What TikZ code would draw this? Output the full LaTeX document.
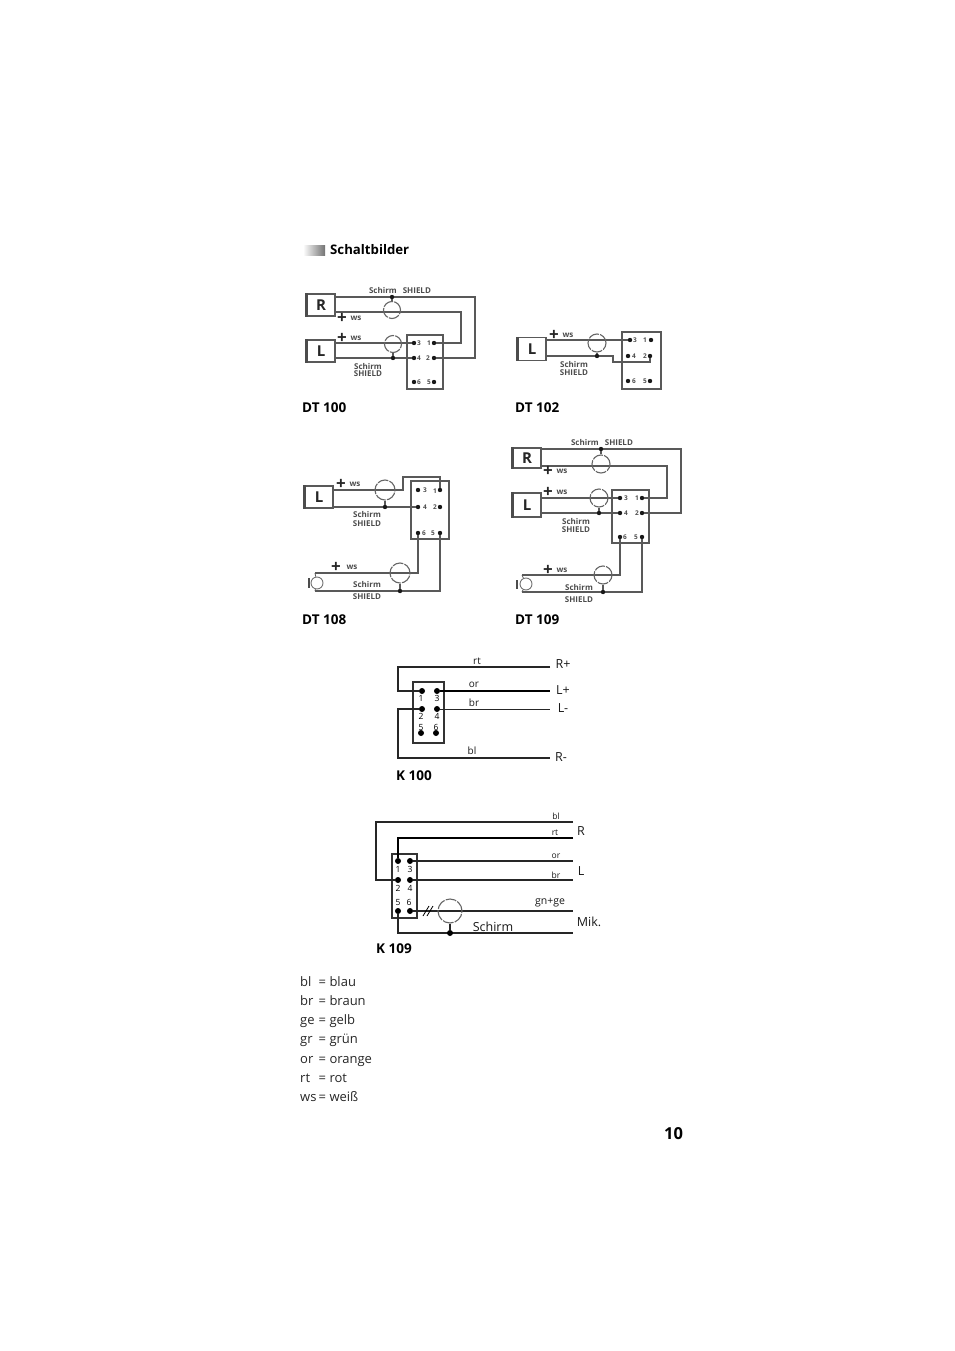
\documentclass[tikz,border=0pt]{standalone}
\usepackage{fontspec}
\setmainfont{Open Sans}
\usetikzlibrary{positioning,shapes}

\begin{document}
\begin{tikzpicture}[inner sep=0pt,x=1pt,y=-1pt]
  \useasboundingbox(0,0)rectangle(954,1351);
  \tikzstyle{w}=[draw=black!65,line width=1.25pt]
  \tikzstyle{k}=[draw=black!85,line width=1.3pt]
  \tikzstyle{kt}=[draw=black,line width=1.9pt]
  \tikzstyle{plug}=[draw=black!65,line width=1.25pt,minimum width=28pt,minimum height=22pt,font=\fontsize{15}{15}\bfseries\selectfont,text=black!85]
  \tikzstyle{bar}=[line width=2.4pt,draw=black!70]
  \tikzstyle{conn}=[draw=black!65,line width=1.25pt]
  \tikzstyle{pin}=[circle,fill=black!90,minimum size=4.4pt]
  \tikzstyle{kpin}=[circle,fill=black,minimum size=6pt]
  \tikzstyle{sh}=[circle,draw=black!60,line width=1.1pt,dash pattern=on 11pt off 1.2pt,minimum size=17pt]
  \tikzstyle{mic}=[circle,draw=black!55,line width=0.9pt,minimum size=12pt]
  \tikzstyle{lb}=[font=\fontsize{8}{8}\bfseries\selectfont,text=black!70]
  \tikzstyle{plus}=[font=\fontsize{17}{17}\bfseries\selectfont,text=black!85]
  \tikzstyle{num}=[font=\fontsize{6.5}{6.5}\bfseries\selectfont,text=black!70]
  \tikzstyle{knum}=[font=\fontsize{8.5}{8.5}\selectfont]
  \tikzstyle{kl}=[font=\fontsize{10}{10}\selectfont,text=black!90]
  \tikzstyle{ks}=[font=\fontsize{8.5}{8.5}\selectfont,text=black!90]
  \tikzstyle{kb}=[font=\fontsize{12.5}{12.5}\selectfont,text=black!90]
  \tikzstyle{tag}=[anchor=base west,font=\fontsize{13.5}{13.5}\bfseries\selectfont]
  \tikzstyle{leg}=[anchor=base west,font=\fontsize{13}{13}\selectfont,text=black!85]
  % head
  \node[left color=white,right color=black!55,minimum width=22pt,minimum height=10pt](hbar)at(314,250){};
  \node[tag,font=\fontsize{13.2}{13.2}\bfseries\selectfont](head)at(330,254){Schaltbilder};
  \node[tag,font=\fontsize{16.5}{16.5}\bfseries\selectfont](page)at(664,1139){10};
  % DT 100
  \node[tag](atag)at(302,412){DT 100};
  \node[plug](aR)at(321,305){R};
  \node[plug](aL)at(321,351){L};
  \node[conn,minimum width=36pt,minimum height=54pt](abox)at(425,362){};
  \foreach\n/\x/\y in{a3/414/343,a1/434/343,a4/414/358,a2/434/358,a6/414/382,a5/434/382}{\node[pin](\n)at(\x,\y){};}
  \foreach\n/\x/\y in{3/419/343,1/429/343,4/419/358,2/428/358,6/419/382,5/429/382}{\node[num](an\n)at(\x,\y){\n};}
  \coordinate(aRt)at(335,297);\coordinate(aRb)at(335,312);\coordinate(aLt)at(335,343);\coordinate(aLb)at(335,358);
  \coordinate(aE1)at(475,358);\coordinate(aE2)at(461,343);
  \draw[w](aRt)-|(aE1)--(a2);
  \draw[w](aRb)-|(aE2)--(a1);
  \foreach\o/\d in{aLt/a3,aLb/a4}{\draw[w](\o)--(\d);}
  \node[sh](aS1)at(392,310){};\node[pin](aD1)at(392,297){};
  \node[sh](aS2)at(393,344){};\node[pin](aD2)at(393,358){};
  \foreach\o/\d in{aS1/aD1,aS2/aD2}{\draw[w](\o)--(\d);}
  \draw[bar](aR.north west)--(aR.south west);
  \draw[bar](aL.north west)--(aL.south west);
  \node[lb](al1)at(400,290){Schirm\hspace{4pt} SHIELD};
  \node[lb](al2)at(368,366){Schirm};\node[lb](al3)at(368,374){SHIELD};
  \node[plus](ap1)at(342,318){+};\node[plus](ap2)at(342,338){+};
  \foreach\n/\x/\y in{w1/356/318,w2/356/338}{\node[lb](a\n)at(\x,\y){ws};}
  % DT 102
  \node[tag](btag)at(515,412){DT 102};
  \node[plug,minimum height=23pt](bL)at(532,349){L};
  \node[conn,minimum width=39pt,minimum height=57pt](bbox)at(641.4,360.4){};
  \foreach\n/\x/\y in{b3/630/340,b1/651/340,b4/628/356,b2/650/356,b6/628/381,b5/650/381}{\node[pin](\n)at(\x,\y){};}
  \foreach\n/\x/\y in{3/635/340,1/645/340,4/634/356,2/645/356,6/634/381,5/645/381}{\node[num](bn\n)at(\x,\y){\n};}
  \coordinate(bLt)at(546,340);\coordinate(bLb)at(546,356);\coordinate(bJ)at(613,362);\coordinate(bK)at(650,362);
  \draw[w](bLt)--(b3);
  \draw[w](bLb)-|(bJ)--(bK)--(b2);
  \node[sh,minimum size=18pt](bS)at(597,343){};\node[pin](bD)at(597,356){};
  \draw[w](bS)--(bD);
  \draw[bar](bL.north west)--(bL.south west);
  \node[plus](bp)at(554,335){+};\node[lb](bw)at(568,335){ws};
  \node[lb](bl1)at(574,364){Schirm};\node[lb](bl2)at(574,373){SHIELD};
  % DT 108
  \node[tag](ctag)at(302,624){DT 108};
  \node[plug](cL)at(319,497){L};
  \node[conn,minimum width=38pt,minimum height=58pt](cbox)at(430,510){};
  \foreach\n/\x/\y in{c3/418/490,c1/440/490,c4/418/507,c2/440/507,c6/418/533,c5/440/533}{\node[pin](\n)at(\x,\y){};}
  \foreach\n/\x/\y in{3/425/490,1/435/491,4/425/507,2/435/507,6/424/533,5/433/533}{\node[num](cn\n)at(\x,\y){\n};}
  \coordinate(cLt)at(333,490);\coordinate(cLb)at(333,507);\coordinate(cJ1)at(403,490);\coordinate(cJ2)at(403,477);\coordinate(cJ3)at(440,477);
  \draw[w](cLt)--(cJ1)--(cJ2)--(cJ3)--(c1);
  \draw[w](cLb)--(c4);
  \node[sh,minimum size=20pt](cS1)at(385,490){};\node[pin](cD1)at(385,507){};
  \draw[w](cS1)--(cD1);
  \draw[bar](cL.north west)--(cL.south west);
  \node[mic](cM)at(317,583){};
  \coordinate(cMt)at(315,573);\coordinate(cMb)at(315,591);\coordinate(cB1)at(309,578);\coordinate(cB2)at(309,588);
  \draw[bar](cB1)--(cB2);
  \draw[w,line width=0.8pt](cMt)--(cM);\draw[w,line width=0.8pt](cMb)--(cM);
  \draw[w](cMt)-|(c6);
  \draw[w](cMb)-|(c5);
  \node[sh,minimum size=20pt](cS2)at(400,573){};\node[pin](cD2)at(400,591){};
  \draw[w](cS2)--(cD2);
  \node[plus](cp1)at(341,484){+};\node[lb](cw1)at(355,484){ws};
  \node[plus](cp2)at(336,567){+};\node[lb](cw2)at(352,567){ws};
  \node[lb](cl1)at(367,514){Schirm};\node[lb](cl2)at(367,524){SHIELD};
  \node[lb](cl3)at(367,584){Schirm};\node[lb](cl4)at(367,597){SHIELD};
  % DT 109
  \node[tag](dtag)at(515,624){DT 109};
  \node[plug,minimum height=20pt](dR)at(527,458){R};
  \node[plug,minimum height=24pt](dL)at(527,505){L};
  \node[conn,minimum width=37pt,minimum height=53pt](dbox)at(630.5,516.5){};
  \foreach\n/\x/\y in{d3/620/498,d1/642/498,d4/620/513,d2/642/513,d6/620/537,d5/642/537}{\node[pin](\n)at(\x,\y){};}
  \foreach\n/\x/\y in{3/626/498,1/637/498,4/626/513,2/637/513,6/625/537,5/636/537}{\node[num](dn\n)at(\x,\y){\n};}
  \coordinate(dRt)at(541,449);\coordinate(dRb)at(541,466);\coordinate(dLt)at(541,498);\coordinate(dLb)at(541,513);
  \coordinate(dE1)at(681,513);\coordinate(dE2)at(667,498);
  \draw[w](dRt)-|(dE1)--(d2);
  \draw[w](dRb)-|(dE2)--(d1);
  \foreach\o/\d in{dLt/d3,dLb/d4}{\draw[w](\o)--(\d);}
  \node[sh,minimum size=18pt](dS1)at(601,464){};\node[pin](dD1)at(601,449){};
  \node[sh,minimum size=18pt](dS2)at(599,498){};\node[pin](dD2)at(599,513){};
  \foreach\o/\d in{dS1/dD1,dS2/dD2}{\draw[w](\o)--(\d);}
  \draw[bar](dR.north west)--(dR.south west);
  \draw[bar](dL.north west)--(dL.south west);
  \node[mic](dM)at(526,584){};
  \coordinate(dMt)at(522,575);\coordinate(dMb)at(522,592);\coordinate(dB1)at(517,580);\coordinate(dB2)at(517,589);
  \draw[bar](dB1)--(dB2);
  \draw[w,line width=0.8pt](dMt)--(dM);\draw[w,line width=0.8pt](dMb)--(dM);
  \draw[w](dMt)-|(d6);
  \draw[w](dMb)-|(d5);
  \node[sh,minimum size=18pt](dS3)at(603,575){};\node[pin](dD3)at(603,592){};
  \draw[w](dS3)--(dD3);
  \node[lb](dl1)at(602,442){Schirm\hspace{4pt} SHIELD};
  \foreach\n/\y in{1/471,2/492,3/570}{\node[plus](dp\n)at(548,\y){+};\node[lb](dw\n)at(562,\y){ws};}
  \node[lb](dl2)at(576,521){Schirm};\node[lb](dl3)at(576,530){SHIELD};
  \node[lb](dl4)at(579,587){Schirm};\node[lb](dl5)at(579,600){SHIELD};
  % K 100
  \node[tag](etag)at(396,780){K 100};
  \node[conn,draw=black!80,minimum width=31pt,minimum height=61pt](ebox)at(428.5,712.5){};
  \foreach\n/\x/\y in{e1/422/691,e3/437/691,e2/422/709,e4/437/709,e5/421/733,e6/436/733}{\node[kpin](\n)at(\x,\y){};}
  \foreach\n/\x/\y in{1/421/698,3/437/698,2/421/716,4/437/716,5/421/727,6/436/727}{\node[knum](en\n)at(\x,\y){\n};}
  \coordinate(eR1)at(550,667);\coordinate(eL1)at(550,691);\coordinate(eL2)at(550,709);\coordinate(eR2)at(550,758);
  \coordinate(eA)at(398,691);\coordinate(eB)at(398,709);
  \draw[k](eR1)-|(eA)--(e1);
  \draw[kt](e3)--(eL1);
  \draw[k,line width=1pt](e4)--(eL2);
  \draw[k](e2)--(eB)|-(eR2);
  \foreach\n/\t/\x/\y in{a/rt/477/661,b/or/474/685,c/br/474/703,d/bl/472/751}{\node[kl](el\n)at(\x,\y){\t};}
  \foreach\n/\t/\x/\y in{e/R+/563/664,f/L+/563/690,g/L-/563/708,h/R-/561/757}{\node[kb](el\n)at(\x,\y){\t};}
  % K 109
  \node[tag](ftag)at(376,953){K 109};
  \node[conn,draw=black!80,minimum width=25pt,minimum height=64pt](fbox)at(404.5,886){};
  \foreach\n/\x/\y in{f1/398/861,f3/410/861,f2/398/880,f4/410/880,f5/398/911,f6/410/911}{\node[kpin](\n)at(\x,\y){};}
  \foreach\n/\x/\y in{1/398/869,3/410/869,2/398/888,4/410/888,5/398/902,6/409/902}{\node[knum](fn\n)at(\x,\y){\n};}
  \coordinate(fa)at(573,822);\coordinate(fb)at(573,838);\coordinate(fc)at(573,861);\coordinate(fd)at(573,880);\coordinate(fe)at(573,911);\coordinate(ff)at(573,933);
  \coordinate(fA)at(376,880);
  \draw[k](fa)-|(fA)--(f2);
  \draw[kt](fb)-|(f1);
  \foreach\o/\d in{f3/fc,f4/fd,f6/fe}{\draw[k](\o)--(\d);}
  \draw[k](f5)|-(ff);
  \node[sh,minimum size=24pt](fS)at(450,911){};\node[kpin](fD)at(450,933){};
  \draw[k](fS)--(fD);
  \coordinate(fs1)at(423,916);\coordinate(fs2)at(429,906);\coordinate(fs3)at(427,916);\coordinate(fs4)at(433,906);
  \foreach\o/\d in{fs1/fs2,fs3/fs4}{\draw[line width=0.8pt](\o)--(\d);}
  \foreach\n/\t/\x/\y in{a/bl/556/816,b/rt/555/833,c/or/556/856,d/br/556/875}{\node[ks](fl\n)at(\x,\y){\t};}
  \node[kl,font=\fontsize{10.5}{10.5}\selectfont](fle)at(550,903){gn+ge};
  \node[kb](flf)at(493,927){Schirm};
  \foreach\n/\t/\x/\y in{g/R/581/831,h/L/581/871,i/Mik./589/922}{\node[kb](fl\n)at(\x,\y){\t};}
  % legend
  \foreach\n/\a/\t/\y in{1/bl/blau/986,2/br/braun/1005,3/ge/gelb/1024,4/gr/grün/1043,5/or/orange/1063,6/rt/rot/1082,7/ws/weiß/1101}{\node[leg](leg\n)at(300,\y){\makebox[18.5pt][l]{\a}= \t};}
\end{tikzpicture}
\end{document}
